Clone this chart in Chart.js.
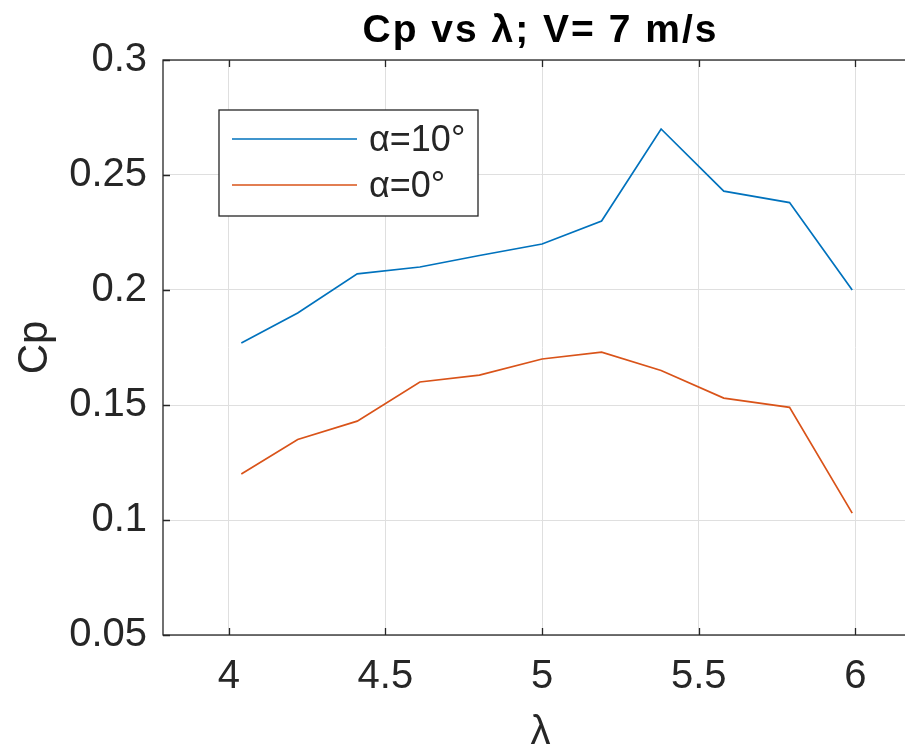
<!DOCTYPE html>
<html>
<head>
<meta charset="utf-8">
<script src="https://cdn.jsdelivr.net/npm/chart.js@4/dist/chart.umd.min.js"></script>
<style>
  html, body { margin: 0; padding: 0; background: #fff; overflow: hidden; }
  #wrap { width: 922px; height: 749px; }
</style>
</head>
<body>
<div id="wrap"><canvas id="cpGrafico"></canvas></div>
<script>
// valores
const lambdaVals = [4.04, 4.22, 4.41, 4.61, 4.80, 5.00, 5.19, 5.38, 5.58, 5.79, 5.99];
const cpAlpha10 = [0.177, 0.190, 0.207, 0.210, 0.215, 0.220, 0.230, 0.270, 0.243, 0.238, 0.200];
const cpAlpha0 = [0.120, 0.135, 0.143, 0.160, 0.163, 0.170, 0.173, 0.165, 0.153, 0.149, 0.103];
const xTicks = [4, 4.5, 5, 5.5, 6];
const yTicks = [0.05, 0.1, 0.15, 0.2, 0.25, 0.3];

const FONT = '"Liberation Sans", Arial, sans-serif';
const AXIS = '#262626';

// caixa, ticks internos, título e legenda no estilo MATLAB
const estiloMatlab = {
    id: 'estiloMatlab',
    afterDraw(chart) {
        const c = chart.ctx;
        const a = chart.chartArea;
        const sx = chart.scales.x, sy = chart.scales.y;
        c.save();
        c.strokeStyle = AXIS;
        c.lineWidth = 1.3;
        c.strokeRect(a.left, a.top, a.right - a.left, a.bottom - a.top);
        c.beginPath();
        xTicks.forEach(v => {
            const px = Math.round(sx.getPixelForValue(v)) + 0.5;
            c.moveTo(px, a.bottom); c.lineTo(px, a.bottom - 7);
            c.moveTo(px, a.top); c.lineTo(px, a.top + 7);
        });
        yTicks.forEach(v => {
            const py = Math.round(sy.getPixelForValue(v)) + 0.5;
            c.moveTo(a.left, py); c.lineTo(a.left + 7, py);
            c.moveTo(a.right, py); c.lineTo(a.right - 7, py);
        });
        c.stroke();

        // título
        c.fillStyle = '#000';
        c.font = 'bold 39px ' + FONT;
        c.letterSpacing = '2px';
        c.textAlign = 'center';
        c.textBaseline = 'alphabetic';
        c.fillText('Cp vs λ; V= 7 m/s', (a.left + a.right) / 2, 42);
        c.letterSpacing = '0px';

        // legenda
        const lx = a.left + 56, ly = a.top + 50, lw = 259, lh = 106;
        c.fillStyle = '#fff';
        c.fillRect(lx, ly, lw, lh);
        c.strokeStyle = AXIS;
        c.lineWidth = 1.3;
        c.strokeRect(lx, ly, lw, lh);
        c.font = '36px ' + FONT;
        c.textAlign = 'left';
        c.textBaseline = 'middle';
        chart.data.datasets.forEach((ds, i) => {
            const yy = ly + 29 + i * 46;
            c.strokeStyle = ds.borderColor;
            c.lineWidth = ds.borderWidth;
            c.beginPath();
            c.moveTo(lx + 13, yy); c.lineTo(lx + 138, yy);
            c.stroke();
            c.fillStyle = AXIS;
            c.fillText(ds.label, lx + 150, yy + 2);
        });
        c.restore();
    }
};

const ctx = document.getElementById('cpGrafico').getContext('2d');

const cpGrafico = new Chart(ctx, {
    type: 'line',
    data: {
        datasets: [{
            label: 'α=10°',
            data: lambdaVals.map((x, i) => ({ x: x, y: cpAlpha10[i] })),
            borderColor: '#0072BD',
            borderWidth: 1.7,
            pointRadius: 0,
            tension: 0,
            fill: false
        }, {
            label: 'α=0°',
            data: lambdaVals.map((x, i) => ({ x: x, y: cpAlpha0[i] })),
            borderColor: '#D95319',
            borderWidth: 1.7,
            pointRadius: 0,
            tension: 0,
            fill: false
        }]
    },
    options: {
        responsive: true,
        maintainAspectRatio: false,
        animation: false,
        layout: { padding: { top: 60, right: 4, left: 0, bottom: 0 } },
        plugins: {
            legend: { display: false },
            title: { display: false },
            tooltip: { enabled: false }
        },
        scales: {
            x: {
                type: 'linear',
                min: 3.79,
                max: 6.2,
                afterBuildTicks: s => { s.ticks = xTicks.map(v => ({ value: v })); },
                afterFit: s => { s.height = 114; },
                grid: { color: '#dfdfdf', lineWidth: 1, drawTicks: false },
                border: { display: false },
                ticks: {
                    padding: 22,
                    color: AXIS,
                    font: { family: FONT, size: 40, lineHeight: 1.0 },
                    callback: v => String(v)
                },
                title: {
                    display: true,
                    text: 'λ',
                    color: AXIS,
                    font: { family: FONT, size: 40, lineHeight: 0.8 },
                    padding: { top: 0, bottom: 0 }
                }
            },
            y: {
                min: 0.05,
                max: 0.3,
                afterBuildTicks: s => { s.ticks = yTicks.map(v => ({ value: v })); },
                afterFit: s => { s.width = 163; },
                grid: { color: '#dfdfdf', lineWidth: 1, drawTicks: false },
                border: { display: false },
                ticks: {
                    padding: 16,
                    color: AXIS,
                    font: { family: FONT, size: 40 },
                    callback: v => String(v)
                },
                title: {
                    display: true,
                    text: 'Cp',
                    color: AXIS,
                    font: { family: FONT, size: 42, lineHeight: 1.0 },
                    padding: { top: 14, bottom: 0 }
                }
            }
        }
    },
    plugins: [estiloMatlab]
});
</script>
</body>
</html>
